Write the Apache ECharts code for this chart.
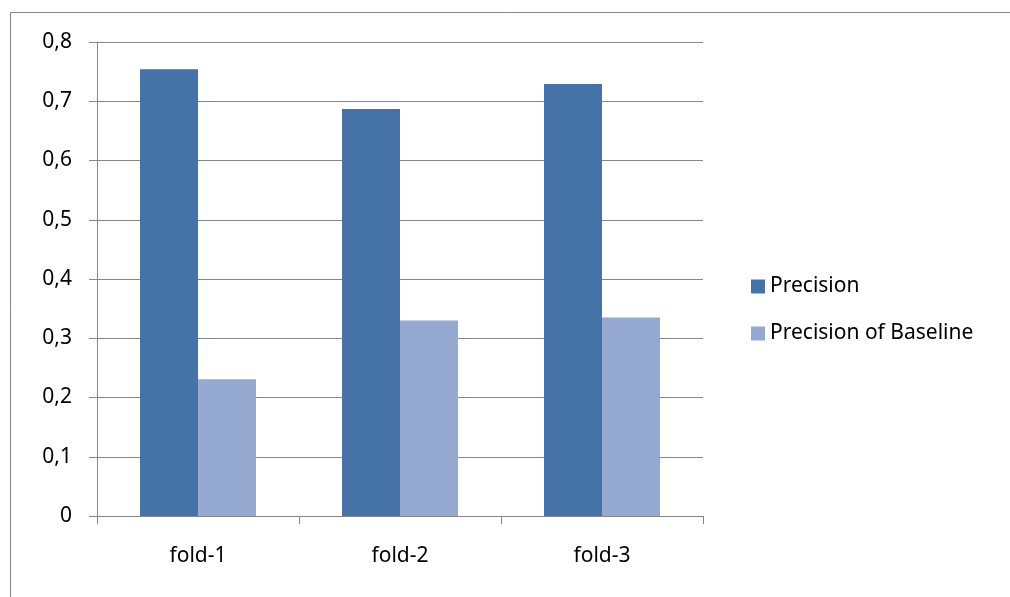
<!DOCTYPE html>
<html>
<head>
<meta charset="utf-8">
<style>
  html, body { margin: 0; padding: 0; background: #ffffff; }
  #chart { width: 1010px; height: 597px; }
</style>
<script src="https://cdn.jsdelivr.net/npm/echarts@6/dist/echarts.min.js"></script>
</head>
<body>
<div id="chart"></div>
<script>
// Fold labels along the horizontal axis
const categories = ['fold-1', 'fold-2', 'fold-3'];
// Precision per fold
const precision = [0.754, 0.687, 0.729];
// Precision of the baseline per fold
const baselinePrecision = [0.231, 0.330, 0.335];
// Value-axis tick labels (decimal comma)
const yTickLabels = ['0', '0,1', '0,2', '0,3', '0,4', '0,5', '0,6', '0,7', '0,8'];

const font = 'Noto Sans';
const fontSize = 21;
const gridColor = '#868686';

const chart = echarts.init(document.getElementById('chart'), null, { renderer: 'canvas' });

chart.setOption({
  backgroundColor: '#ffffff',
  animation: false,
  graphic: [{
    type: 'rect',
    shape: { x: 10.5, y: 12.5, width: 1100, height: 700 },
    style: { fill: 'none', stroke: '#868686', lineWidth: 1 },
    silent: true
  }],
  grid: { left: 97, top: 42, width: 606, height: 474, containLabel: false },
  legend: {
    orient: 'vertical',
    left: 746,
    top: 271,
    itemWidth: 14,
    itemHeight: 14,
    itemGap: 26,
    icon: 'rect',
    textStyle: { fontFamily: font, fontSize: fontSize, color: '#000000' },
    data: ['Precision', 'Precision of Baseline']
  },
  xAxis: {
    type: 'category',
    data: categories,
    axisLine: { show: true, lineStyle: { color: gridColor, width: 1 } },
    axisTick: { show: true, length: 8, alignWithLabel: false, lineStyle: { color: gridColor } },
    axisLabel: { fontFamily: font, fontSize: fontSize, color: '#000000', margin: 30 },
    splitLine: { show: false }
  },
  yAxis: {
    type: 'value',
    min: 0,
    max: 0.8,
    interval: 0.1,
    axisLine: { show: true, lineStyle: { color: gridColor, width: 1 } },
    axisTick: { show: true, length: 8, inside: false, lineStyle: { color: gridColor } },
    axisLabel: {
      fontFamily: font, fontSize: fontSize, color: '#000000', margin: 25,
      formatter: function (v) { return yTickLabels[Math.round(v * 10)]; }
    },
    splitLine: { show: true, lineStyle: { color: gridColor, width: 1 } }
  },
  series: [
    {
      name: 'Precision',
      type: 'bar',
      data: precision,
      barWidth: 58,
      barGap: '0%',
      itemStyle: { color: '#4572A7' }
    },
    {
      name: 'Precision of Baseline',
      type: 'bar',
      data: baselinePrecision,
      barWidth: 58,
      barGap: '0%',
      itemStyle: { color: '#95A9D1' }
    }
  ]
});
</script>
</body>
</html>
